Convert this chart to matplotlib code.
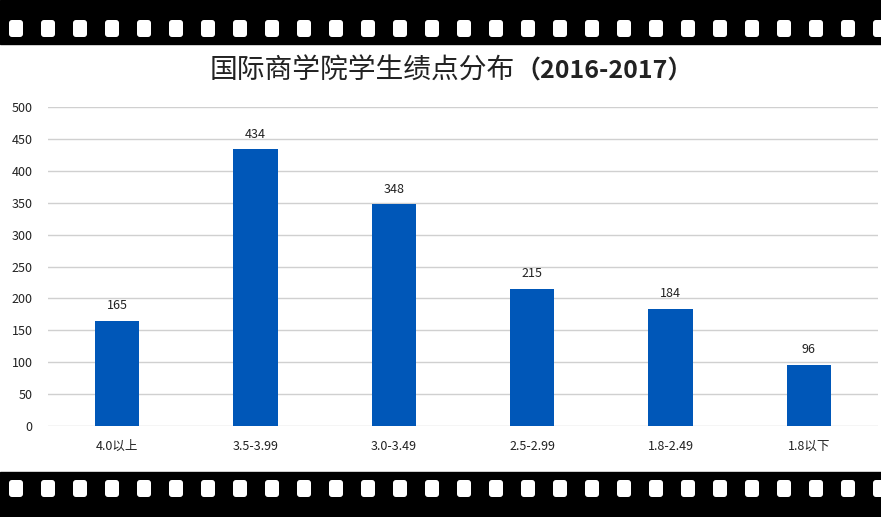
import matplotlib
matplotlib.use("Agg")
import matplotlib.pyplot as plt
from matplotlib.patches import FancyBboxPatch, Rectangle

plt.rcParams['font.family'] = ['Noto Sans CJK SC', 'DejaVu Sans']

categories = ['4.0以上', '3.5-3.99', '3.0-3.49', '2.5-2.99', '1.8-2.49', '1.8以下']
counts = [165, 434, 348, 215, 184, 96]
y_ticks = [0, 50, 100, 150, 200, 250, 300, 350, 400, 450, 500]

W, H = 881, 517
fig = plt.figure(figsize=(W / 100, H / 100), dpi=100)

# film strip background
bg = fig.add_axes([0, 0, 1, 1], zorder=0)
bg.set_xlim(0, W)
bg.set_ylim(H, 0)
bg.axis('off')
bg.add_patch(Rectangle((0, 0), W, 44, color='black'))
bg.add_patch(Rectangle((0, 472), W, H - 472, color='black'))
for i in range(28):
    x = 9 + i * 32
    for y in (20, 480):
        bg.add_patch(FancyBboxPatch((x + 3, y + 3), 8, 11,
                                    boxstyle='round,pad=3', color='white', lw=0))

ax = fig.add_axes([48 / W, 1 - 426 / H, 830 / W, 319 / H], zorder=1)
ax.patch.set_alpha(0)
x = range(len(categories))
bars = ax.bar(x, counts, width=0.32, color='#0057B8', zorder=3)
ax.bar_label(bars, labels=[str(c) for c in counts], padding=6, fontsize=9, color='#222222')
ax.set_xlim(-0.5, len(categories) - 0.5)
ax.set_ylim(0, 500)
ax.set_yticks(y_ticks)
ax.set_xticks(list(x))
ax.set_xticklabels(categories)
ax.grid(axis='y', color='#d0d0d0', lw=1, zorder=0)
for s in ax.spines.values():
    s.set_visible(False)
ax.tick_params(axis='both', length=0, labelsize=9, colors='#222222')
ax.tick_params(axis='x', pad=10)
ax.tick_params(axis='y', pad=11)

ty = 1 - 71 / H
fig.text(515 / W, ty, '国际商学院学生绩点分布', ha='right', va='center',
         fontsize=20, color='#222222')
fig.text(515 / W, ty, '（2016-2017）', ha='left', va='center',
         fontsize=18, fontweight='bold', color='#222222')

fig.savefig('out.png', dpi=100)
